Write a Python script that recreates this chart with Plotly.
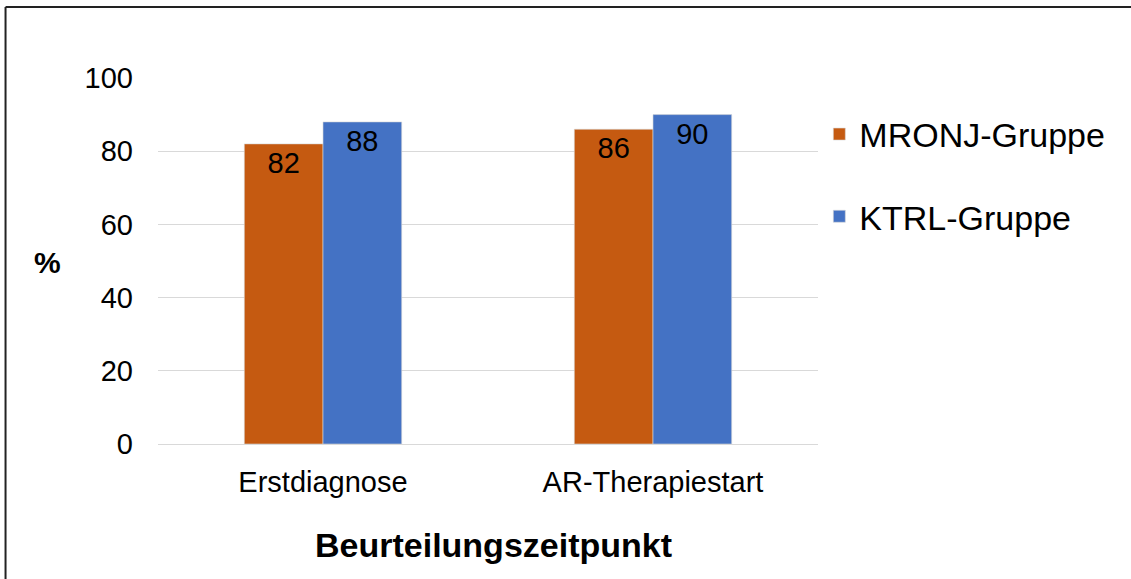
import plotly.graph_objects as go

# Data
categories = ["Erstdiagnose", "AR-Therapiestart"]
mronj_values = [82, 86]
ktrl_values = [88, 90]
y_ticks = [0, 20, 40, 60, 80, 100]

FONT = "Liberation Sans, Arial, sans-serif"
ORANGE = "#C55A11"
BLUE = "#4472C4"

fig = go.Figure()
fig.add_trace(go.Bar(
    name="MRONJ-Gruppe", x=categories, y=mronj_values,
    marker=dict(color=ORANGE, line=dict(color="#D9D9D9", width=0.6)),
    text=[str(v) for v in mronj_values], textposition="inside",
    insidetextanchor="end", textangle=0, constraintext="none",
    textfont=dict(family=FONT, size=29, color="black"),
    legendgroup="a",
))
fig.add_trace(go.Bar(
    name="KTRL-Gruppe", x=categories, y=ktrl_values,
    marker=dict(color=BLUE, line=dict(color="#D9D9D9", width=0.6)),
    text=[str(v) for v in ktrl_values], textposition="inside",
    insidetextanchor="end", textangle=0, constraintext="none",
    textfont=dict(family=FONT, size=29, color="black"),
    legendgroup="b",
))

# Frame: top and left edges of the outer border
frame_line = dict(color="#222222", width=2)

fig.update_layout(
    width=1131, height=579,
    margin=dict(l=158, r=313, t=78, b=135),
    paper_bgcolor="white", plot_bgcolor="white",
    font=dict(family=FONT, color="black"),
    barmode="group", bargap=0.523, bargroupgap=0,
    showlegend=True,
    legend=dict(
        x=1.002, xanchor="left", y=0.925, yanchor="top",
        font=dict(family=FONT, size=34, color="black"),
        traceorder="grouped", tracegroupgap=35,
        bgcolor="rgba(0,0,0,0)",
    ),
    xaxis=dict(
        showgrid=False, showline=False, zeroline=False,
        tickfont=dict(family=FONT, size=29, color="black"),
        ticklabelstandoff=18,
    ),
    yaxis=dict(
        range=[0, 100], tickvals=y_ticks,
        showgrid=True, gridcolor="#D9D9D9", gridwidth=1.3,
        zeroline=True, zerolinecolor="#D9D9D9", zerolinewidth=1.3,
        showline=False,
        tickfont=dict(family=FONT, size=29, color="black"),
        ticklabelstandoff=24,
    ),
    annotations=[
        dict(text="<b>%</b>", xref="paper", yref="paper",
             x=-0.168, y=0.497, xanchor="center", yanchor="middle",
             showarrow=False, font=dict(family=FONT, size=30, color="black")),
        dict(text="<b>Beurteilungszeitpunkt</b>", xref="paper", yref="paper",
             x=0.508, y=-0.276, xanchor="center", yanchor="middle",
             showarrow=False, font=dict(family=FONT, size=34, color="black")),
    ],
    shapes=[
        dict(type="line", xref="paper", yref="paper",
             x0=-0.231, y0=1.194, x1=1.6, y1=1.194, line=frame_line, layer="above"),
        dict(type="line", xref="paper", yref="paper",
             x0=-0.231, y0=1.194, x1=-0.231, y1=-0.5, line=frame_line, layer="above"),
    ],
)

fig.write_html("out.html")
